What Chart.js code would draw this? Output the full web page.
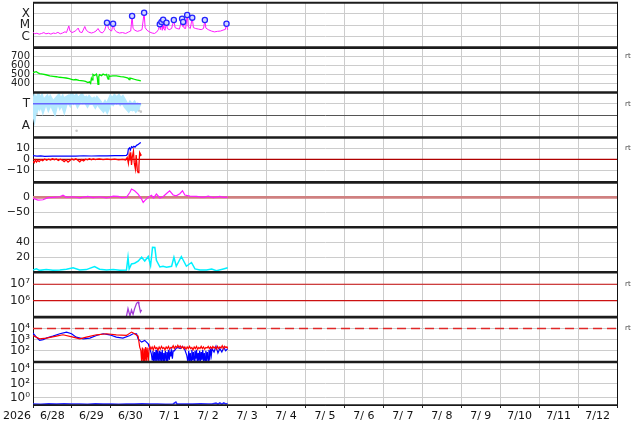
<!DOCTYPE html>
<html>
<head>
<meta charset="utf-8">
<script src="https://cdn.jsdelivr.net/npm/chart.js@4"></script>
<style>
  html, body { margin: 0; padding: 0; background: #fff; }
  canvas { display: block; }
</style>
</head>
<body>
<canvas id="chart" width="634" height="424"></canvas>
<script>
// ---------------------------------------------------------------
// Datos: tiempo en dias desde 6/28 00:00, valores leidos a ojo
// ---------------------------------------------------------------
const xMin = 0, xMax = 15;
const dayLabels = ['6/28','6/29','6/30','7/ 1','7/ 2','7/ 3','7/ 4','7/ 5','7/ 6','7/ 7','7/ 8','7/ 9','7/10','7/11','7/12'];
const yearLabel = '2026';

// X-ray (log10 W/m2)
const xrayT = [0.00,0.04,0.10,0.16,0.22,0.28,0.33,0.40,0.46,0.52,0.58,0.64,0.70,0.76,0.82,0.86,0.92,0.95,1.00,1.05,1.10,1.16,1.20,1.26,1.33,1.37,1.43,1.50,1.56,1.62,1.67,1.72,1.78,1.84,1.90,1.94,1.98,2.02,2.057,2.09,2.15,2.22,2.30,2.38,2.45,2.51,2.545,2.57,2.62,2.68,2.74,2.80,2.854,2.88,2.93,3.00,3.06,3.12,3.18,3.22,3.257,3.27,3.30,3.32,3.343,3.36,3.39,3.429,3.45,3.50,3.56,3.617,3.65,3.70,3.76,3.83,3.845,3.857,3.88,3.92,3.96,3.99,4.04,4.09,4.12,4.18,4.25,4.32,4.38,4.414,4.44,4.50,4.58,4.66,4.74,4.82,4.88,4.94,4.97,5.00];
const xrayLog = [-5.62,-5.77,-5.72,-5.80,-5.74,-5.66,-5.77,-5.72,-5.80,-5.70,-5.74,-5.64,-5.77,-5.70,-5.59,-5.66,-5.07,-5.52,-5.66,-5.59,-5.49,-5.26,-5.60,-5.66,-5.12,-5.46,-5.62,-5.70,-5.64,-5.52,-5.30,-5.59,-5.70,-5.46,-4.78,-5.30,-5.46,-5.52,-4.87,-5.40,-5.60,-5.70,-5.66,-5.74,-5.62,-5.52,-4.18,-5.30,-5.46,-5.55,-5.49,-5.40,-3.89,-5.22,-5.46,-5.62,-5.70,-5.74,-5.60,-5.40,-4.93,-5.40,-4.71,-5.46,-4.51,-5.30,-5.46,-4.78,-5.30,-5.40,-5.30,-4.54,-5.22,-5.30,-5.35,-4.42,-5.10,-4.71,-5.26,-5.30,-4.09,-5.15,-5.30,-4.33,-5.22,-5.30,-5.35,-5.40,-5.30,-4.54,-5.26,-5.40,-5.52,-5.60,-5.55,-5.52,-5.44,-5.38,-4.87,-5.42];
const flareT = [1.90,2.057,2.545,2.854,3.257,3.30,3.343,3.429,3.617,3.83,3.857,3.96,4.09,4.414,4.97];
const flareLog = [-4.78,-4.87,-4.18,-3.89,-4.93,-4.71,-4.51,-4.78,-4.54,-4.42,-4.71,-4.09,-4.33,-4.54,-4.87];
const xrayTicks = [-6, -5, -4];
const xrayTickLabels = ['C', 'M', 'X'];

// Velocidad viento solar (km/s)
const speedT = [0.00,0.04,0.086,0.13,0.17,0.25,0.33,0.43,0.52,0.60,0.68,0.77,0.85,0.93,1.03,1.10,1.18,1.29,1.35,1.41,1.45,1.48,1.50,1.52,1.54,1.58,1.63,1.65,1.67,1.69,1.71,1.76,1.80,1.85,1.89,1.91,1.93,1.95,1.97,2.05,2.14,2.25,2.32,2.40,2.44,2.47,2.49,2.55,2.60,2.66,2.72,2.77];
const speedV = [522,528,533,518,511,505,498,485,480,476,470,467,462,455,441,445,436,430,425,411,420,402,459,440,502,490,505,470,392,480,500,488,505,495,502,470,450,490,480,485,485,478,475,467,460,445,462,455,448,440,435,430];
const speedTicks = [400, 500, 600, 700];

// Clase T / A
const classT = [0.00,0.03,0.06,0.10,0.14,0.18,0.22,0.26,0.30,0.35,0.40,0.45,0.50,0.55,0.60,0.65,0.70,0.75,0.80,0.85,0.90,0.95,1.00,1.05,1.10,1.15,1.20,1.25,1.30,1.35,1.40,1.45,1.50,1.55,1.60,1.65,1.70,1.75,1.80,1.85,1.90,1.95,2.00,2.05,2.10,2.15,2.20,2.25,2.30,2.35,2.40,2.45,2.50,2.55,2.60,2.65,2.70,2.75];
const classV = [3.0,2.5,3.2,2.9,3.4,3.0,3.3,2.8,3.2,3.4,2.9,3.3,3.0,2.6,3.3,3.5,3.0,3.3,2.8,3.4,3.5,3.2,3.6,3.3,3.5,3.1,3.4,3.6,3.3,3.4,3.1,3.4,3.2,3.3,3.0,3.3,3.1,2.8,2.6,2.9,2.6,3.0,3.4,3.2,3.5,3.3,3.5,3.2,3.4,3.1,2.8,2.6,2.9,2.7,2.9,2.6,2.8,2.7];
const classLineT = [0.0, 2.77];
const classLineV = [3, 3];
const classDotT = [0.00,0.03,0.06,0.09,1.12,2.72,2.77];
const classDotV = [2.2,1.9,2.3,2.1,0.6,2.4,2.3];
const classTicks = [1, 2, 3];
const classTickLabels = ['A', '', 'T'];

// IMF Bt / Bz (nT)
const btT = [0.0,0.1,0.2,0.3,0.5,0.7,0.9,1.1,1.3,1.5,1.7,1.9,2.1,2.3,2.4,2.43,2.45,2.48,2.5,2.53,2.56,2.59,2.62,2.66,2.7,2.73,2.77];
const btV = [3.4,3.0,3.2,2.8,3.0,2.9,3.1,3.0,3.3,3.1,3.3,3.2,3.4,3.5,3.6,5.0,9.4,10.5,8.5,11.5,10.8,12.0,11.2,12.8,13.5,14.5,15.5];
const bzT = [0.0,0.03,0.06,0.09,0.12,0.16,0.2,0.25,0.3,0.35,0.4,0.45,0.5,0.55,0.6,0.65,0.7,0.75,0.8,0.85,0.9,0.95,1.0,1.05,1.1,1.15,1.2,1.25,1.3,1.35,1.4,1.45,1.5,1.55,1.6,1.7,1.8,1.9,2.0,2.1,2.2,2.3,2.38,2.42,2.45,2.47,2.49,2.51,2.53,2.55,2.58,2.6,2.63,2.65,2.68,2.7,2.72,2.74,2.76,2.77];
const bzV = [-1.5,-3.0,-0.5,-2.5,-1.0,-2.0,-0.3,-1.2,0.3,-0.8,0.2,-0.5,0.5,-0.3,0.4,-1.0,0.2,-0.6,-2.0,-0.5,-2.5,-1.0,0.3,-0.5,0.5,-0.8,-2.2,-0.3,-1.5,0.2,-0.4,0.6,-0.3,0.4,-0.2,0.5,-0.2,0.3,-0.3,0.2,-0.4,0.0,-0.5,1.8,-3.6,4.0,-1.0,6.4,-5.0,2.0,7.5,-3.0,-8.8,4.0,-10.3,-12.0,-6.0,6.4,5.0,3.0];
const magTicks = [-10, 0, 10];
const magTickLabels = ['\u221210', '0', '10'];

// Variacion geomagnetica (nT)
const dstT = [0.0,0.129,0.257,0.386,0.514,0.686,0.771,0.857,1.03,1.2,1.41,1.54,1.71,1.89,2.06,2.19,2.27,2.4,2.49,2.53,2.61,2.7,2.79,2.83,2.87,2.96,3.04,3.1,3.17,3.26,3.34,3.43,3.51,3.6,3.68,3.77,3.84,3.9,4.03,4.2,4.37,4.5,4.63,4.8,4.89,5.0];
const dstV = [-3,-9,-8,-1,0,2,7,0,2,-2,3,-1,2,-2,4,3,-1,0,17,28,22,11,-6,-17,-11,0,7,-2,11,-2,2,13,22,8,5,12,22,8,4,3,0,4,-1,3,0,1];
const dstTicks = [-50, 0];
const dstTickLabels = ['\u221250', '0'];

// Actividad (cian)
const actT = [0.0,0.086,0.17,0.34,0.51,0.69,0.86,1.03,1.2,1.37,1.58,1.71,1.89,2.06,2.23,2.4,2.44,2.47,2.53,2.61,2.7,2.79,2.87,2.96,3.02,3.07,3.13,3.17,3.26,3.34,3.43,3.56,3.62,3.68,3.81,3.87,3.94,4.07,4.16,4.29,4.46,4.59,4.71,4.89,5.0];
const actV = [3,4.5,2.5,3.5,2.5,3,4,5.8,3,3.5,7.6,4,3,3.5,2.5,3,20,4.4,11,12,14.7,20,15,21,8.9,33.3,33,16,7,8,6.7,8,20,8,21,15,8,13,4.4,3,3,4.4,2,4.4,6];
const actTicks = [20, 40];

// Flujo (log10), panel 7
const pfluxT = [2.19,2.40,2.44,2.49,2.53,2.57,2.61,2.66,2.70,2.72,2.76,2.79];
const pfluxLog = [5.01,5.05,5.52,5.07,5.44,5.17,5.52,5.84,5.92,5.78,5.32,5.44];
const pfluxTicks = [6, 7];

// Flujo (log10), panel 8: A azul, B rojo
const fluxAT = [0.0,0.086,0.17,0.26,0.34,0.51,0.69,0.86,0.99,1.11,1.29,1.46,1.63,1.8,1.97,2.14,2.31,2.49,2.57,2.66,2.7,2.74,2.79,2.87,2.96,3.0,3.04,
    3.06,3.08,3.10,3.12,3.14,3.16,3.18,3.20,3.22,3.24,3.26,3.28,3.30,3.32,3.34,3.36,3.38,3.40,3.42,3.44,3.46,3.48,3.50,3.52,3.54,3.56,3.58,3.60,
    3.63,3.67,3.72,3.78,3.84,3.9,3.95,
    3.98,4.00,4.02,4.04,4.06,4.08,4.10,4.12,4.14,4.16,4.18,4.20,4.22,4.24,4.26,4.28,4.30,4.32,4.34,4.36,4.38,4.40,4.42,4.44,4.46,4.48,4.50,4.52,4.54,4.56,4.58,
    4.6,4.65,4.7,4.75,4.8,4.85,4.9,4.95,5.0];
const fluxALog = [3.58,3.22,2.93,3.0,3.13,3.31,3.52,3.67,3.52,3.22,3.07,3.13,3.37,3.52,3.43,3.22,3.13,3.37,3.52,3.52,3.07,2.93,2.78,2.93,2.63,2.19,1.74,
    1.2,2.0,1.0,1.9,1.1,2.1,1.0,1.8,1.2,2.0,1.0,1.9,1.1,2.1,1.0,1.8,1.3,2.0,1.0,1.9,1.1,2.1,1.2,1.9,1.5,2.0,1.3,2.0,
    2.0,2.2,2.3,2.2,2.4,2.1,1.6,
    1.0,2.0,1.1,1.8,1.0,2.1,1.2,1.9,1.0,2.0,1.3,2.1,1.0,1.8,1.1,2.0,1.0,1.9,1.2,2.1,1.0,1.8,1.1,2.0,1.3,1.9,1.0,2.1,1.2,2.2,1.6,
    2.2,1.9,2.4,1.8,2.2,1.9,2.3,2.0,2.2];
const fluxBT = [0.0,0.17,0.34,0.6,0.77,1.03,1.2,1.37,1.63,1.89,2.14,2.4,2.53,2.61,2.7,2.74,2.77,2.79,2.81,2.83,2.85,2.87,2.89,2.91,2.93,2.96,2.98,3.0,3.03,3.06,3.09,3.12,3.15,3.18,3.21,3.24,3.27,3.3,3.33,3.36,3.39,3.42,3.45,3.48,3.51,3.54,3.57,3.6,3.63,3.66,3.69,3.72,3.75,3.78,3.81,3.84,3.87,3.9,3.93,3.96,3.99,4.02,4.05,4.08,4.11,4.14,4.17,4.2,4.23,4.26,4.29,4.32,4.35,4.38,4.41,4.44,4.47,4.5,4.53,4.56,4.59,4.62,4.65,4.68,4.71,4.74,4.77,4.8,4.83,4.86,4.89,4.92,4.95,4.98,5.0];
const fluxBLog = [3.37,3.07,3.13,3.31,3.43,3.22,3.07,3.22,3.43,3.52,3.43,3.37,3.67,3.52,3.31,2.33,2.04,1.06,2.3,1.06,2.2,1.06,2.35,1.1,2.3,1.06,2.2,2.4,2.15,2.35,2.1,2.4,2.2,2.3,2.05,2.35,2.15,2.4,2.2,2.3,2.1,2.35,2.2,2.4,2.15,2.3,2.25,2.45,2.2,2.4,2.3,2.5,2.3,2.45,2.25,2.4,2.2,2.35,2.15,2.35,2.2,2.4,2.2,2.3,2.1,2.35,2.2,2.4,2.15,2.3,2.2,2.4,2.2,2.35,2.15,2.3,2.25,2.4,2.2,2.35,2.2,2.4,2.25,2.35,2.15,2.4,2.2,2.35,2.25,2.45,2.2,2.4,2.3,2.35,2.2];
const fluxTicks = [2, 3, 4];

// Flujo (log10), panel 9
const lowT = [0.0,0.2,0.4,0.6,0.8,1.0,1.2,1.4,1.6,1.8,2.0,2.2,2.4,2.6,2.8,3.0,3.2,3.4,3.6,3.67,3.7,3.9,4.1,4.3,4.5,4.6,4.7,4.75,4.8,4.85,4.9,4.95,5.0];
const lowLog = [-0.85,-0.9,-0.84,-0.88,-0.83,-0.87,-0.85,-0.9,-0.84,-0.88,-0.86,-0.9,-0.85,-0.88,-0.84,-0.87,-0.85,-0.9,-0.86,-0.6,-0.87,-0.85,-0.88,-0.84,-0.87,-0.85,-0.75,-0.9,-0.72,-0.88,-0.7,-0.85,-0.8];
const lowTicks = [0, 2, 4];

// Umbrales
const bzZero = 0;
const dstZero = 0;
const pfluxLevels = [6, 7];
const fluxLevel = 4;

// ---------------------------------------------------------------
const FONT = 'DejaVu Sans';
Chart.defaults.font.family = FONT;

const pts = (t, v) => t.map((x, i) => ({ x: x, y: v[i] }));
const hline = (y) => [{ x: xMin, y: y }, { x: xMax, y: y }];
const pow10 = (n) => '10' + String(n).split('').map(c => '\u2070\u00b9\u00b2\u00b3\u2074\u2075\u2076\u2077\u2078\u2079'['0123456789'.indexOf(c)]).join('');

function panelAxis(weight, stackWeight, min, max, ticks, labels, size, gridColor) {
    return {
        type: 'linear',
        position: 'left',
        stack: 'panels',
        stackWeight: stackWeight,
        weight: weight,
        min: min,
        max: max,
        afterBuildTicks: s => { s.ticks = ticks.map(v => ({ value: v })); },
        afterFit: s => { s.width = 33; s.paddingTop = 0; s.paddingBottom = 0; },
        grid: { color: gridColor || '#cccccc', drawTicks: false, lineWidth: 1 },
        border: { display: true, color: '#111' },
        ticks: {
            autoSkip: false,
            padding: 3,
            color: '#222',
            font: { family: FONT, size: size || 10 },
            callback: (v, i) => labels[i]
        }
    };
}

function line(data, axis, color, width, extra) {
    return Object.assign({
        data: data, yAxisID: axis, borderColor: color, backgroundColor: color,
        borderWidth: width, pointRadius: 0, tension: 0, fill: false
    }, extra || {});
}

// texto y marcos de los paneles
const panelIds = ['yXray', 'ySpeed', 'yClass', 'yMag', 'yDst', 'yAct', 'yPflux', 'yFlux', 'yLow'];
const rtMarks = [['ySpeed', 700], ['yClass', 3], ['yMag', 10], ['yPflux', 7], ['yFlux', 4]];

const panelFrame = {
    id: 'panelFrame',
    afterDraw(chart) {
        const { ctx, chartArea: a } = chart;
        ctx.save();
        ctx.strokeStyle = '#111';
        ctx.lineWidth = 1;
        ctx.beginPath();
        ctx.moveTo(a.right + 0.5, a.top);
        ctx.lineTo(a.right + 0.5, a.bottom);
        ctx.stroke();
        ctx.strokeStyle = '#1c1c1c';
        panelIds.forEach((id, i) => {
            const s = chart.scales[id];
            ctx.lineWidth = i === 0 ? 2 : 2.6;
            ctx.beginPath();
            ctx.moveTo(a.left, s.top);
            ctx.lineTo(a.right + 1, s.top);
            ctx.stroke();
        });
        ctx.lineWidth = 1.5;
        ctx.beginPath();
        ctx.moveTo(a.left, a.bottom);
        ctx.lineTo(a.right + 1, a.bottom);
        ctx.stroke();

        ctx.fillStyle = '#111';
        ctx.font = '11px "' + FONT + '"';
        ctx.textAlign = 'center';
        ctx.textBaseline = 'middle';
        ctx.fillText(yearLabel, 17, 416.5);

        ctx.fillStyle = '#444';
        ctx.font = '7px "' + FONT + '"';
        ctx.textAlign = 'left';
        rtMarks.forEach(([id, v]) => {
            ctx.fillText('rt', a.right + 8, chart.scales[id].getPixelForValue(v));
        });
        ctx.restore();
    }
};

new Chart(document.getElementById('chart'), {
    type: 'line',
    data: {
        datasets: [
            line(pts(flareT, flareLog), 'yXray', '#2424ff', 1.3, { showLine: false, pointRadius: 2.6, backgroundColor: '#d4d8ff', pointBorderWidth: 1.3 }),
            line(pts(xrayT, xrayLog), 'yXray', '#ff1aff', 1),
            line(pts(speedT, speedV), 'ySpeed', '#00ee00', 1.3),
            line(pts(classLineT, classLineV), 'yClass', '#6666ff', 1.5),
            line(pts(classT, classV), 'yClass', '#b4e9fd', 6),
            line(pts(classDotT, classDotV), 'yClass', '#c8c8c8', 1, { showLine: false, pointRadius: 1.3, pointBorderWidth: 0 }),
            line(pts(btT, btV), 'yMag', '#0000ff', 1.2),
            line(pts(bzT, bzV), 'yMag', '#ff0000', 1.3),
            line(hline(bzZero), 'yMag', '#b00000', 1.2),
            line(pts(dstT, dstV), 'yDst', '#ff1aff', 1.2),
            line(hline(dstZero), 'yDst', '#cf8080', 2.8),
            line(pts(actT, actV), 'yAct', '#00f0ff', 1.5),
            line(pts(pfluxT, pfluxLog), 'yPflux', '#a23ad6', 1.3),
            line(hline(pfluxLevels[0]), 'yPflux', '#cc1111', 1.2),
            line(hline(pfluxLevels[1]), 'yPflux', '#cc1111', 1.2),
            line(pts(fluxBT, fluxBLog), 'yFlux', '#ff0000', 1.2),
            line(pts(fluxAT, fluxALog), 'yFlux', '#0000ff', 1.2),
            line(hline(fluxLevel), 'yFlux', '#e02828', 1.5, { borderDash: [9, 5] }),
            line(pts(lowT, lowLog), 'yLow', '#2626ff', 1.6)
        ]
    },
    options: {
        responsive: false,
        animation: false,
        events: [],
        layout: { autoPadding: false, padding: { top: 2.7, right: 17, bottom: 0, left: 0 } },
        plugins: { legend: { display: false }, tooltip: { enabled: false } },
        scales: {
            x: {
                type: 'linear',
                position: 'bottom',
                min: xMin,
                max: xMax,
                afterBuildTicks: s => {
                    s.ticks = [];
                    for (let i = 0; i <= (xMax - xMin) * 2; i++) s.ticks.push({ value: xMin + i / 2 });
                },
                afterFit: s => { s.height = 19; s.paddingLeft = 0; s.paddingRight = 0; },
                grid: {
                    color: c => Number.isInteger(c.tick.value) ? '#cccccc' : 'rgba(0,0,0,0)',
                    tickColor: c => Number.isInteger(c.tick.value) ? '#222' : 'rgba(0,0,0,0)',
                    tickLength: 3,
                    lineWidth: 1
                },
                border: { display: true, color: '#111' },
                ticks: {
                    autoSkip: false,
                    maxRotation: 0,
                    padding: 2,
                    color: '#111',
                    font: { family: FONT, size: 11 },
                    callback: v => Number.isInteger(v) ? '' : dayLabels[Math.floor(v)]
                }
            },
            yXray: panelAxis(9, 45, -7, -3, xrayTicks, xrayTickLabels, 12),
            ySpeed: panelAxis(8, 45, 300, 800, speedTicks, speedTicks.map(String), 10),
            yClass: panelAxis(7, 45, 0, 4, classTicks, classTickLabels, 12,
                c => c.tick.value === 2 ? '#555555' : '#cccccc'),
            yMag: panelAxis(6, 45, -21, 20, magTicks, magTickLabels, 11),
            yDst: panelAxis(5, 45, -100, 50, dstTicks, dstTickLabels, 11),
            yAct: panelAxis(4, 45, 0, 60, actTicks, actTicks.map(String), 11),
            yPflux: panelAxis(3, 45, 5, 7.73, pfluxTicks, pfluxTicks.map(pow10), 12),
            yFlux: panelAxis(2, 45, 1, 5, fluxTicks, fluxTicks.map(pow10), 12),
            yLow: panelAxis(1, 43, -1, 5, lowTicks, lowTicks.map(pow10), 12)
        }
    },
    plugins: [panelFrame]
});
</script>
</body>
</html>
